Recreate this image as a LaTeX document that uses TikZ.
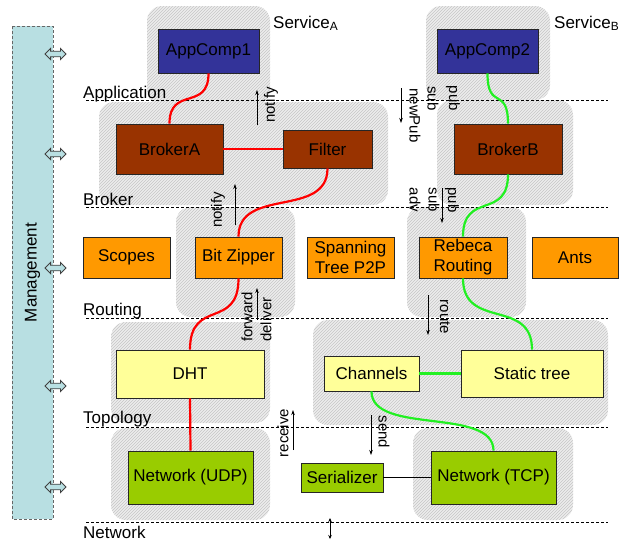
\documentclass[tikz,border=0pt]{standalone}
\usepackage{fontspec}
\setmainfont{Liberation Sans}
\usetikzlibrary{patterns,shapes.arrows,arrows.meta}
\definecolor{appc}{HTML}{333399}
\definecolor{brkc}{HTML}{993300}
\definecolor{rtc}{HTML}{FF9900}
\definecolor{topc}{HTML}{FFFF99}
\definecolor{netc}{HTML}{99CC00}
\definecolor{mgmt}{HTML}{B8DFE2}
\definecolor{grn}{HTML}{22F022}
\begin{document}
\begin{tikzpicture}[x=1pt,y=-1pt,
  box/.style={draw=black!85, line width=0.8pt, inner sep=0pt, font=\fontsize{17}{20}\selectfont, text=black, align=center},
  region/.style={fill=gray!14, postaction={pattern=north east lines, pattern color=gray!45}, rounded corners=15pt},
  lay/.style={dash pattern=on 3pt off 2pt, line width=0.6pt},
  laylbl/.style={anchor=base west, font=\fontsize{17}{20}\selectfont, inner sep=0pt},
  small/.style={font=\fontsize{15}{18}\selectfont, inner sep=0pt},
  sig/.style={-{Stealth[length=5pt,width=3.5pt]}, line width=0.7pt},
  redc/.style={draw=red, line width=2.2pt},
  grnc/.style={draw=grn, line width=2.2pt},
  marrow/.style={double arrow, draw=black!75, fill=mgmt, line width=0.8pt, minimum height=21pt, inner sep=2.4pt, double arrow head extend=2.8pt}
]
\useasboundingbox (0,0) rectangle (621,542);

% hatched regions
\path[region] (147,6) rectangle (270,105);
\path[region] (99,102) rectangle (388,205);
\path[region] (176,207) rectangle (295,317);
\path[region] (111,322) rectangle (270,423);
\path[region] (111,428) rectangle (270,520);
\path[region] (426,6) rectangle (550,100);
\path[region] (437,100) rectangle (573,205);
\path[region] (407,207) rectangle (526,317);
\path[region] (313,320) rectangle (608,425);
\path[region] (413,428) rectangle (573,520);

% layer lines
\draw[lay] (86,100) -- (608,100);
\draw[lay] (86,207) -- (608,207);
\draw[lay] (86,318) -- (608,318);
\draw[lay] (86,427) -- (608,427);
\draw[lay] (86,522) -- (608,522);

% layer labels
\node[laylbl] (lApp) at (83,98) {Application};
\node[laylbl] (lBrk) at (83,205) {Broker};
\node[laylbl] (lRt) at (83,315) {Routing};
\node[laylbl] (lTop) at (83,423) {Topology};
\node[laylbl] (lNet) at (83,538) {Network};
\node[laylbl] (sA) at (273,28) {Service\textsubscript{A}};
\node[laylbl] (sB) at (554,28) {Service\textsubscript{B}};

% management
\node[draw=black!60, densely dashed, line width=0.5pt, fill=mgmt, rotate=90, minimum width=493pt, minimum height=41pt, inner sep=0pt, font=\fontsize{17}{20}\selectfont] (mg) at (32.5,272.5) {Management};
\node[marrow] (m1) at (55.5,54) {};
\node[marrow] (m2) at (55.5,154) {};
\node[marrow] (m3) at (55.5,268) {};
\node[marrow] (m4) at (55.5,386) {};
\node[marrow] (m5) at (55.5,487) {};

% nodes
\node[box, fill=appc, minimum width=101pt, minimum height=44pt] (ac1) at (208.5,51) {AppComp1};
\node[box, fill=appc, minimum width=101pt, minimum height=44pt] (ac2) at (487.5,51) {AppComp2};
\node[box, fill=brkc, minimum width=107pt, minimum height=50pt] (ba) at (169.5,149) {BrokerA};
\node[box, fill=brkc, minimum width=89pt, minimum height=38pt] (fi) at (327.5,149) {Filter};
\node[box, fill=brkc, minimum width=108pt, minimum height=50pt] (bb) at (508,149) {BrokerB};
\node[box, fill=rtc, minimum width=87pt, minimum height=41pt] (sc) at (126.5,257.5) {Scopes};
\node[box, fill=rtc, minimum width=87pt, minimum height=41pt] (bz) at (238.5,257.5) {Bit Zipper};
\node[box, fill=rtc, minimum width=87pt, minimum height=41pt] (sp) at (350.5,257.5) {Spanning\\Tree P2P};
\node[box, fill=rtc, minimum width=88pt, minimum height=41pt] (rr) at (463,257.5) {Rebeca\\Routing};
\node[box, fill=rtc, minimum width=86pt, minimum height=41pt] (an) at (575,257.5) {Ants};
\node[box, fill=topc, minimum width=148pt, minimum height=48pt] (dht) at (190,374) {DHT};
\node[box, fill=topc, minimum width=95pt, minimum height=35pt] (ch) at (371.5,373.5) {Channels};
\node[box, fill=topc, minimum width=142pt, minimum height=47pt] (st) at (532,373.5) {Static tree};
\node[box, fill=netc, minimum width=125pt, minimum height=53pt] (udp) at (190.5,477.5) {Network (UDP)};
\node[box, fill=netc, minimum width=82pt, minimum height=29pt] (ser) at (342,477.5) {Serializer};
\node[box, fill=netc, minimum width=125pt, minimum height=53pt] (tcp) at (493.5,477.5) {Network (TCP)};

% red connectors
\draw[redc] (ac1.south) .. controls +(0,38) and +(0,-38) .. (ba.north);
\draw[redc] (ba.east) -- (fi.west);
\draw[redc] (fi.south) .. controls +(0,50) and +(0,-50) .. (bz.north);
\draw[redc] (bz.south) .. controls +(0,52) and +(0,-52) .. (dht.north);
\draw[redc] (dht.south) -- (udp.north);

% green connectors
\draw[grnc] (ac2.south) .. controls +(0,38) and +(0,-38) .. (bb.north);
\draw[grnc] (bb.south) .. controls +(0,46) and +(0,-46) .. (rr.north);
\draw[grnc] (rr.south) .. controls +(0,52) and +(0,-52) .. (st.north);
\draw[grnc] (ch.east) -- (st.west);
\draw[grnc] (ch.south) .. controls +(0,44) and +(0,-44) .. (tcp.north);

% black connector
\draw[line width=0.8pt] (ser.east) -- (tcp.west);

% signal arrows
\coordinate (n1a) at (257,125); \coordinate (n1b) at (257,90);
\draw[sig] (n1a) -- (n1b);
\node[small, rotate=90] (t1) at (271,105) {notify};

\coordinate (n2a) at (235,225); \coordinate (n2b) at (235,184);
\draw[sig] (n2a) -- (n2b);
\node[small, rotate=90] (t2) at (218,210) {notify};

\coordinate (npa) at (401,88); \coordinate (npb) at (401,123);
\draw[sig] (npa) -- (npb);
\node[small, rotate=-90] (t3) at (415,115.5) {newPub};
\node[small, rotate=-90] (t4) at (433,98.5) {sub};
\node[small, rotate=-90] (t5) at (453,98.5) {pub};

\coordinate (psa) at (442,188); \coordinate (psb) at (442,223);
\draw[sig] (psa) -- (psb);
\node[small, rotate=-90] (t6) at (415,200) {adv};
\node[small, rotate=-90] (t7) at (434,200) {sub};
\node[small, rotate=-90] (t8) at (452,200) {pub};

\coordinate (fwa) at (257,320); \coordinate (fwb) at (257,288);
\draw[sig] (fwa) -- (fwb);
\node[small, rotate=90, anchor=west] (t9) at (247,342) {forward};
\node[small, rotate=90, anchor=west] (t10) at (266,342) {deliver};

\coordinate (roa) at (428,295); \coordinate (rob) at (428,335);
\draw[sig] (roa) -- (rob);
\node[small, rotate=-90] (t11) at (445,317) {route};

\coordinate (rea) at (293,450); \coordinate (reb) at (293,410);
\draw[sig] (rea) -- (reb);
\node[small, rotate=90] (t12) at (283,433) {receive};

\coordinate (sea) at (371,415); \coordinate (seb) at (371,455);
\draw[sig] (sea) -- (seb);
\node[small, rotate=-90] (t13) at (384,432) {send};

\coordinate (bda) at (330,518); \coordinate (bdb) at (330,539);
\draw[{Stealth[length=4pt,width=3.5pt]}-{Stealth[length=4pt,width=3.5pt]}, line width=0.8pt] (bda) -- (bdb);
\end{tikzpicture}
\end{document}
